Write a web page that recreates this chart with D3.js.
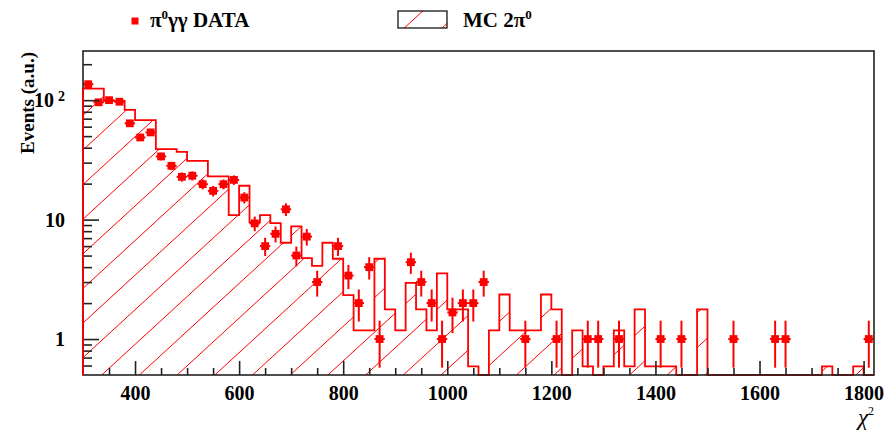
<!DOCTYPE html>
<html>
<head>
<meta charset="utf-8">
<script src="https://cdn.jsdelivr.net/npm/d3@7"></script>
<style>
  body { margin: 0; background: #fff; }
  svg { display: block; }
  text { font-family: "Liberation Serif", "Times New Roman", serif; font-weight: bold; fill: #000; }
</style>
</head>
<body>
<svg id="chart" width="888" height="432"></svg>
<script>
// ---- chi2 histogram binning ----
const chi2Range = [300, 1820];
const binWidth = 20;
const binLowEdges = d3.range(300, 1820, binWidth);

// ---- Monte Carlo 2pi0 expectation, one value per bin (a.u.) ----
const mcEvents = [
  125, 125, 98.6, 98.6, 83, 68, 68, 38.9, 38.9, 36.9,
  31, 31, 23, 23, 10.9, 19.2, 9.5, 10.9, 9.35, 6.4,
  8.77, 4.76, 4.1, 6.4, 4.7, 2.33, 1.18, 1.18, 4.7, 1.77,
  1.18, 2.95, 1.77, 1.18, 3.55, 1.77, 1.77, 0.59, 0, 1.18,
  2.36, 1.18, 1.18, 1.18, 2.36, 1.77, 0, 1.18, 0.59, 0,
  0.59, 1.18, 0.59, 1.77, 0.59, 0.59, 0.59, 0, 0, 1.77,
  0, 0, 0, 0, 0, 0, 0, 0, 0, 0,
  0, 0.59, 0, 0, 0.59, 0
];

// ---- pi0 gamma gamma data: bin centres and weighted contents ----
const dataChi2 = [
  310, 330, 350, 370, 390, 410, 430, 450, 470, 490,
  510, 530, 550, 570, 590, 610, 630, 650, 670, 690,
  710, 730, 750, 790, 810, 830, 850, 870, 930, 950,
  970, 990, 1010, 1030, 1050, 1070, 1150, 1210, 1270, 1290,
  1330, 1410, 1450, 1550, 1630, 1650, 1810
];
const dataEvents = [
  136, 96, 100, 97, 64, 48.7, 53.7, 33.8, 28.2, 22.8,
  23.3, 19.8, 17.4, 19.8, 21.5, 15.3, 9.3, 6.0, 7.6, 12.2,
  5.0, 7.2, 3.0, 6.0, 3.4, 2.0, 4.0, 1.0, 4.4, 3.0,
  2.0, 1.0, 1.67, 2.0, 2.0, 3.0, 1, 1, 1, 1,
  1, 1, 1, 1, 1, 1, 1
];
// per-event weight of the data sample; error = sqrt(w * content)
const dataWeight = 0.18;

// ---- axis ticks and labels ----
const xMajorTicks = [400, 600, 800, 1000, 1200, 1400, 1600, 1800];
const xMinorTicks = d3.range(350, 1820, 50).filter(v => v % 200 !== 0);
const yMajorTicks = [1, 10, 100];
const yMajorLabels = ["1", "10", "10|2"];
const yMinorTicks = [0.6, 0.7, 0.8, 0.9, 2, 3, 4, 5, 6, 7, 8, 9,
                     20, 30, 40, 50, 60, 70, 80, 90, 200];
const yRange = [0.5, 258];

const red = "#ff0000";
const frame = { left: 83, right: 874, top: 51, bottom: 375 };

const svg = d3.select("#chart");
svg.append("rect").attr("width", 888).attr("height", 432).attr("fill", "#fff");

const x = d3.scaleLinear().domain(chi2Range).range([frame.left, frame.right]);
const y = d3.scaleLog().domain(yRange).range([frame.bottom, frame.top]);
const yc = v => (v <= yRange[0] ? frame.bottom : Math.max(frame.top, y(v)));

// ---- MC histogram outline (step path) ----
let pts = [[x(binLowEdges[0]), frame.bottom]];
binLowEdges.forEach((lo, i) => {
  const yy = yc(mcEvents[i]);
  pts.push([x(lo), yy]);
  pts.push([x(lo + binWidth), yy]);
});
pts.push([x(chi2Range[1]), frame.bottom]);
const stepPath = d3.line()(pts);

const defs = svg.append("defs");
defs.append("clipPath").attr("id", "histClip").append("path").attr("d", stepPath + "Z");
defs.append("clipPath").attr("id", "legClip").append("rect")
  .attr("x", 398).attr("y", 11).attr("width", 49).attr("height", 17);

// diagonal hatch (/ direction), shared by the histogram and its legend box
function hatch(g) {
  const slope = 0.918, step = 37.7, x0 = 101.7;
  for (let k = -30; k < 30; k++) {
    const xb = x0 + k * step;          // crossing of y = frame.bottom
    g.append("line")
      .attr("x1", xb - 60 / slope).attr("y1", frame.bottom + 60)
      .attr("x2", xb + (frame.bottom + 10) / slope).attr("y2", -10)
      .attr("stroke", red).attr("stroke-width", 1);
  }
}
hatch(svg.append("g").attr("clip-path", "url(#histClip)"));

svg.append("path").attr("d", stepPath)
  .attr("fill", "none").attr("stroke", red).attr("stroke-width", 1.8);

// ---- data points with error bars ----
const dataG = svg.append("g");
dataChi2.forEach((c, i) => {
  const v = dataEvents[i];
  const e = Math.sqrt(dataWeight * v);
  const cx = x(c), cy = y(v);
  dataG.append("line")
    .attr("x1", cx).attr("x2", cx)
    .attr("y1", yc(v + e)).attr("y2", yc(v - e))
    .attr("stroke", red).attr("stroke-width", 2);
  dataG.append("line")
    .attr("x1", x(c - binWidth / 2)).attr("x2", x(c + binWidth / 2))
    .attr("y1", cy).attr("y2", cy)
    .attr("stroke", red).attr("stroke-width", 2);
  dataG.append("rect")
    .attr("x", cx - 3.9).attr("y", cy - 3.9)
    .attr("width", 7.8).attr("height", 7.8).attr("fill", red);
});

// ---- axes (ticks inside the frame) ----
const axisColor = "#222";
const gx = svg.append("g").attr("transform", `translate(0,${frame.bottom})`)
  .call(d3.axisBottom(x).tickValues(xMajorTicks).tickSize(-14).tickPadding(11)
        .tickFormat(d3.format("d")));
svg.append("g").attr("transform", `translate(0,${frame.bottom})`)
  .call(d3.axisBottom(x).tickValues(xMinorTicks).tickSize(-7).tickFormat(""))
  .call(g => g.select(".domain").remove())
  .call(g => g.selectAll("line").attr("stroke", axisColor).attr("stroke-width", 1.6));
gx.select(".domain").remove();
gx.selectAll("line").attr("stroke", axisColor).attr("stroke-width", 1.6);
gx.selectAll("text").attr("font-size", 20)
  .style("font-family", '"Liberation Serif", serif').style("font-weight", "bold");

const gy = svg.append("g").attr("transform", `translate(${frame.left},0)`)
  .call(d3.axisLeft(y).tickValues(yMajorTicks).tickSize(-16).tickPadding(18)
        .tickFormat((d, i) => yMajorLabels[i]));
svg.append("g").attr("transform", `translate(${frame.left},0)`)
  .call(d3.axisLeft(y).tickValues(yMinorTicks).tickSize(-9).tickFormat(""))
  .call(g => g.select(".domain").remove())
  .call(g => g.selectAll("line").attr("stroke", axisColor).attr("stroke-width", 1.6));
gy.select(".domain").remove();
gy.selectAll("line").attr("stroke", axisColor).attr("stroke-width", 1.6);
gy.selectAll("text").attr("font-size", 20)
  .style("font-family", '"Liberation Serif", serif').style("font-weight", "bold")
  .each(function (d, i) {
    const parts = yMajorLabels[i].split("|");
    if (parts.length > 1) {
      const t = d3.select(this).text(null);
      t.append("tspan").text(parts[0]);
      t.append("tspan").attr("font-size", 14).attr("dx", 4).attr("dy", "-0.45em").text(parts[1]);
    }
  });

// ---- frame ----
svg.append("rect")
  .attr("x", frame.left).attr("y", frame.top)
  .attr("width", frame.right - frame.left).attr("height", frame.bottom - frame.top)
  .attr("fill", "none").attr("stroke", axisColor).attr("stroke-width", 1.6);
// the MC outline runs along the left edge
svg.append("line")
  .attr("x1", frame.left).attr("x2", frame.left)
  .attr("y1", frame.bottom).attr("y2", yc(mcEvents[0]))
  .attr("stroke", red).attr("stroke-width", 1.8);

// ---- axis titles ----
svg.append("text")
  .attr("transform", `translate(34,${frame.top + 1}) rotate(-90)`)
  .attr("text-anchor", "end").attr("font-size", 19)
  .text("Events (a.u.)");

const xt = svg.append("text").attr("x", frame.right).attr("y", 425)
  .attr("text-anchor", "end").attr("font-size", 23);
xt.append("tspan").attr("font-style", "italic").attr("font-weight", "normal").text("χ");
xt.append("tspan").attr("font-size", 12).attr("dy", -10).attr("font-weight", "normal").text("2");

// ---- legend ----
svg.append("rect").attr("x", 131.5).attr("y", 17.5).attr("width", 7).attr("height", 7).attr("fill", red);
const l1 = svg.append("text").attr("x", 150).attr("y", 27).attr("font-size", 21);
l1.append("tspan").text("π");
l1.append("tspan").attr("font-size", 13).attr("dy", -8).text("0");
l1.append("tspan").attr("dy", 8).text("γγ DATA");

hatch(svg.append("g").attr("clip-path", "url(#legClip)"));
svg.append("rect").attr("x", 398).attr("y", 11).attr("width", 49).attr("height", 17)
  .attr("fill", "none").attr("stroke", "#000").attr("stroke-width", 1.2);
const l2 = svg.append("text").attr("x", 463).attr("y", 27).attr("font-size", 21);
l2.append("tspan").text("MC 2π");
l2.append("tspan").attr("font-size", 13).attr("dy", -8).text("0");
</script>
</body>
</html>
